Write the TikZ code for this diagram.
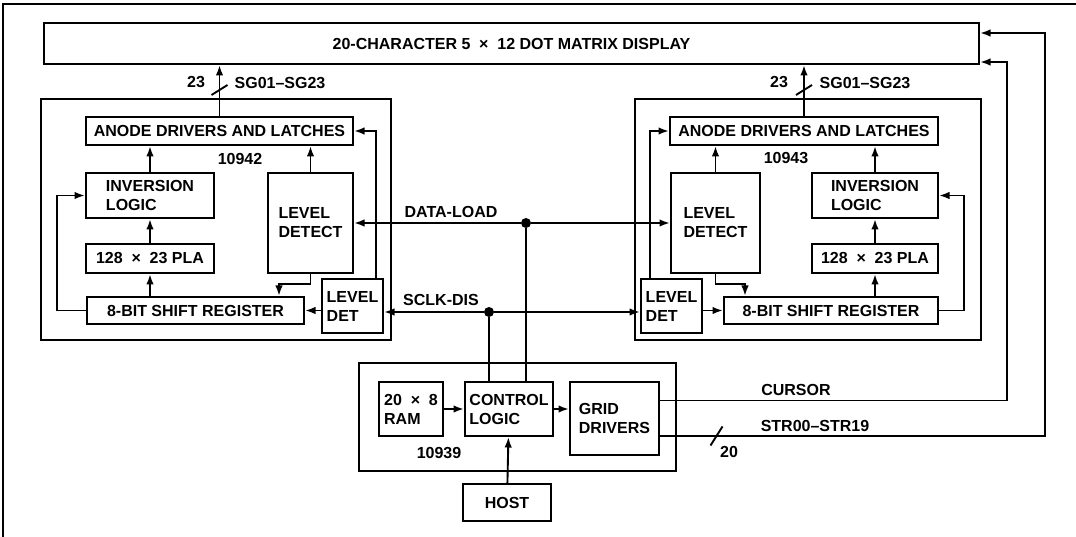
\documentclass[tikz,border=0pt]{standalone}
\usepackage{fontspec}
\setmainfont{Liberation Sans}
\usetikzlibrary{arrows.meta,calc}
\newcommand{\tms}{\hspace{0.55em}×\hspace{0.55em}}

\begin{document}
\begin{tikzpicture}[x=1pt, y=-1pt, >={Latex[length=10.5pt,width=7.5pt]},
  every node/.style={font=\fontsize{16}{19}\selectfont\bfseries, align=left},
  blk/.style={rectangle, draw, line width=2pt, inner sep=0pt},
  wire/.style={line width=1.9pt},
  dot/.style={circle, fill, inner sep=0pt, minimum size=10pt}]
  \useasboundingbox (0,0) rectangle (1076,537);
  \draw[line width=1.3pt] (3,537) -- (3,4) -- (1076,4);

  \node (disp) [blk, minimum width=935pt, minimum height=41pt] at (511.5,43.5) {20-CHARACTER 5\tms 12 DOT MATRIX DISPLAY};

  % 10942
  \node (chipL) [blk, minimum width=350pt, minimum height=241pt] at (216,219.5) {};
  \node (anodeL) [blk, minimum width=267pt, minimum height=28pt] at (219.5,131) {ANODE DRIVERS AND LATCHES};
  \node (invL) [blk, minimum width=128pt, minimum height=45pt] at (150,195.5) {INVERSION\\LOGIC};
  \node (plaL) [blk, minimum width=128pt, minimum height=29pt] at (150,258.5) {128\tms 23 PLA};
  \node (shiftL) [blk, minimum width=217pt, minimum height=27pt] at (195.5,310.5) {8-BIT SHIFT REGISTER};
  \node (lvdL) [blk, minimum width=85pt, minimum height=100pt] at (310.5,223) {LEVEL\\DETECT};
  \node (ldetL) [blk, minimum width=61pt, minimum height=54pt] at (352.5,306) {LEVEL\\DET};
  \node (numL) at (240,159) {10942};

  % 10943
  \node (chipR) [blk, minimum width=346pt, minimum height=241pt] at (808,219.5) {};
  \node (anodeR) [blk, minimum width=268pt, minimum height=28pt] at (804,131) {ANODE DRIVERS AND LATCHES};
  \node (lvdR) [blk, minimum width=89pt, minimum height=100pt] at (715.5,223) {LEVEL\\DETECT};
  \node (invR) [blk, minimum width=126pt, minimum height=45pt] at (875,195.5) {INVERSION\\LOGIC};
  \node (plaR) [blk, minimum width=126pt, minimum height=29pt] at (875,258.5) {128\tms 23 PLA};
  \node (shiftR) [blk, minimum width=214pt, minimum height=27pt] at (831,310.5) {8-BIT SHIFT REGISTER};
  \node (ldetR) [blk, minimum width=61pt, minimum height=54pt] at (671.5,306) {LEVEL\\DET};
  \node (numR) at (786,158) {10943};

  % 10939
  \node (chipC) [blk, minimum width=317pt, minimum height=108pt] at (517.5,417) {};
  \node (ram) [blk, minimum width=64pt, minimum height=54pt] at (411,409) {20\tms 8\\RAM};
  \node (ctrl) [blk, minimum width=88pt, minimum height=54pt] at (509,409) {CONTROL\\LOGIC};
  \node (grid) [blk, minimum width=89pt, minimum height=73pt] at (614.5,418.5) {GRID\\DRIVERS};
  \node (host) [blk, minimum width=88pt, minimum height=37pt] at (507,502.5) {HOST};
  \node (numC) at (439,453) {10939};

  \node (sclk) [dot] at (489,312) {};
  \node (dload) [dot] at (526,223) {};
  \node (dlTxt) at (451,212) {DATA-LOAD};
  \node (scTxt) at (441,300) {SCLK-DIS};
  \node (curTxt) at (796,390) {CURSOR};
  \node (strTxt) at (815,426) {STR00–STR19};
  \node (strN) at (729,452) {20};
  \node (busL) at (196,82) {23};
  \node (sgL) at (280,83) {SG01–SG23};
  \node (busR) at (779,82) {23};
  \node (sgR) at (865,83) {SG01–SG23};

  \draw[wire,->] (anodeL.north) -- (anodeL.north |- disp.south);
  \draw[wire] ($(anodeL.north |- disp.south)+(-8,30)$) -- ++(16,-10);
  \draw[wire,->] (invL.north) -- (invL.north |- anodeL.south);
  \draw[wire,->] (plaL.north) -- (invL.south);
  \draw[wire,->] (plaL.south |- shiftL.north) -- (plaL.south);
  \draw[wire,->] (lvdL.north) -- (lvdL.north |- anodeL.south);
  \draw[wire,->] (lvdL.south) -- ++(0,10) -| ($(shiftL.north east)+(-26,0)$);
  \draw[wire,->] (ldetL.west |- shiftL.east) -- (shiftL.east);
  \draw[wire,->] ($(ldetL.north east)+(-8,0)$) |- (anodeL.east);
  \draw[wire,->] (shiftL.west) -- ++(-29,0) |- (invL.west);

  \draw[wire,->] (anodeR.north) -- (anodeR.north |- disp.south);
  \draw[wire] ($(anodeR.north |- disp.south)+(-8,30)$) -- ++(16,-10);
  \draw[wire,->] (lvdR.north) -- (lvdR.north |- anodeR.south);
  \draw[wire,->] (invR.north) -- (invR.north |- anodeR.south);
  \draw[wire,->] (plaR.north) -- (invR.south);
  \draw[wire,->] (plaR.south |- shiftR.north) -- (plaR.south);
  \draw[wire,->] (lvdR.south) -- ++(0,10) -| ($(shiftR.north west)+(22,0)$);
  \draw[wire,->] (ldetR.east |- shiftR.west) -- (shiftR.west);
  \draw[wire,->] ($(ldetR.north west)+(10,0)$) |- (anodeR.west);
  \draw[wire,->] (shiftR.east) -- ++(25,0) |- (invR.east);

  \draw[wire,->] (dload) -- (lvdL.east);
  \draw[wire,->] (dload) -- (lvdR.west);
  \draw[wire] (dload) -- (dload |- ctrl.north);
  \draw[wire,->] (sclk) -- (ldetL.east |- sclk);
  \draw[wire,->] (sclk) -- (ldetR.west |- sclk);
  \draw[wire] (sclk) -- (sclk |- ctrl.north);

  \draw[wire,->] (ram) -- (ctrl);
  \draw[wire,->] (ctrl.east) -- (ctrl.east -| grid.west);
  \draw[wire,->] (host) -- (ctrl);
  \draw[wire,->] ($(grid.east)+(0,-18)$) -- ++(347,0) |- ($(disp.south east)+(0,-3)$);
  \draw[wire,->] ($(grid.east)+(0,17.5)$) -- ++(385,0) |- ($(disp.north east)+(0,11)$);
  \draw[wire] ($(grid.east)+(50.5,27)$) -- ++(12,-19);
\end{tikzpicture}
\end{document}
